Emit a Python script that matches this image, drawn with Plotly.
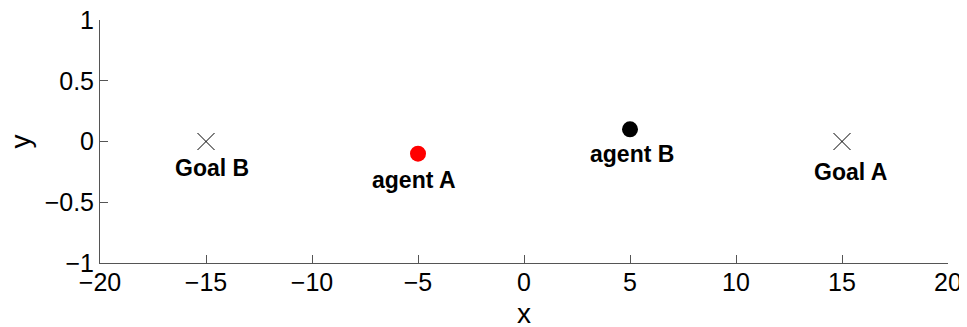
import plotly.graph_objects as go

goal_x = [-15, 15]
goal_y = [0, 0]
agentA = (-5, -0.1)
agentB = (5, 0.1)
label_text = ["Goal B", "agent A", "agent B", "Goal A"]
label_x = [-14.7, -5.2, 5.1, 15.4]
label_y = [-0.215, -0.32, -0.105, -0.255]
x_ticks = [-20, -15, -10, -5, 0, 5, 10, 15, 20]
y_ticks = [-1, -0.5, 0, 0.5, 1]

FONT = "Liberation Sans, Arial"

def fmt(v):
    s = ("%g" % v)
    return s.replace("-", "\u2212")

fig = go.Figure()
fig.add_trace(go.Scatter(x=goal_x, y=goal_y, mode="markers",
                         marker=dict(symbol="x-thin", size=17, line=dict(width=1, color="black"), color="black"),
                         showlegend=False))
fig.add_trace(go.Scatter(x=[agentA[0]], y=[agentA[1]], mode="markers",
                         marker=dict(symbol="circle", size=16, color="#ff0000"), showlegend=False))
fig.add_trace(go.Scatter(x=[agentB[0]], y=[agentB[1]], mode="markers",
                         marker=dict(symbol="circle", size=16, color="black"), showlegend=False))

for t, x, y in zip(label_text, label_x, label_y):
    fig.add_annotation(x=x, y=y, text="<b>%s</b>" % t, showarrow=False,
                       font=dict(family=FONT, size=23, color="black"),
                       xanchor="center", yanchor="middle")

# axis titles
fig.add_annotation(x=0.5, y=0, xref="paper", yref="paper", text="x", showarrow=False,
                   font=dict(family=FONT, size=28, color="black"),
                   xanchor="center", yanchor="middle", yshift=-50)
fig.add_annotation(x=0, y=0.5, xref="paper", yref="paper", text="y", showarrow=False,
                   font=dict(family=FONT, size=28, color="black"), textangle=-90,
                   xanchor="center", yanchor="middle", xshift=-80)

axis_common = dict(showgrid=False, zeroline=False, showline=True, linecolor="#555555", linewidth=1,
                   ticks="inside", ticklen=8, tickcolor="#555555", tickwidth=1, automargin=False,
                   ticklabeloverflow="allow",
                   tickfont=dict(family=FONT, size=25, color="black"))
fig.update_xaxes(range=[-20, 20], tickvals=x_ticks, ticktext=[fmt(v) for v in x_ticks],
                 ticklabelstandoff=-3, **axis_common)
fig.update_yaxes(range=[-1, 1], tickvals=y_ticks, ticktext=[fmt(v) for v in y_ticks], **axis_common)
fig.update_layout(width=967, height=327, margin=dict(l=92, r=27, t=12, b=72),
                  plot_bgcolor="white", paper_bgcolor="white")
fig.write_html("out.html")
